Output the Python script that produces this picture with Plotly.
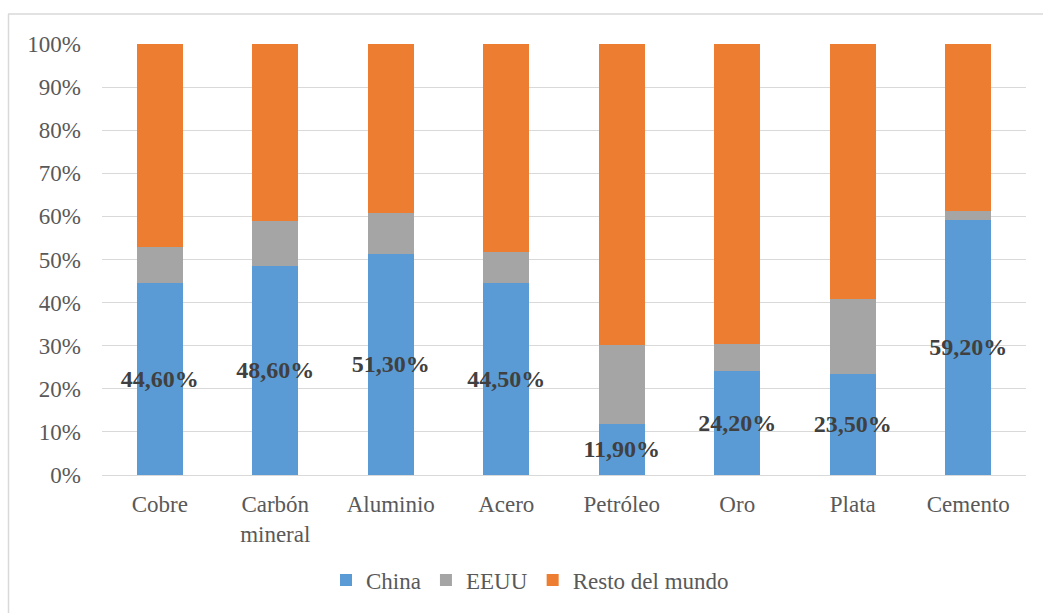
import plotly.graph_objects as go

categories = ["Cobre", "Carbón<br>mineral", "Aluminio", "Acero", "Petróleo", "Oro", "Plata", "Cemento"]
china = [44.6, 48.6, 51.3, 44.5, 11.9, 24.2, 23.5, 59.2]
eeuu = [8.3, 10.4, 9.4, 7.2, 18.3, 6.3, 17.3, 2.1]
resto = [round(100 - c - e, 1) for c, e in zip(china, eeuu)]
china_labels = [f"{v:.2f}%".replace(".", ",") for v in china]

FONT = "Liberation Serif, Times New Roman, serif"

fig = go.Figure()
fig.add_trace(go.Bar(
    name="China", x=categories, y=[v / 100 for v in china],
    marker=dict(color="#5B9BD5", line=dict(width=0)),
    text=china_labels, textposition="inside", insidetextanchor="middle",
    textangle=0, constraintext="none",
    textfont=dict(family=FONT, size=24, color="#404040", weight="bold"),
    hoverinfo="skip",
))
fig.add_trace(go.Bar(
    name="EEUU", x=categories, y=[v / 100 for v in eeuu],
    marker=dict(color="#A5A5A5", line=dict(width=0)), hoverinfo="skip",
))
fig.add_trace(go.Bar(
    name="Resto del mundo", x=categories, y=[v / 100 for v in resto],
    marker=dict(color="#ED7D31", line=dict(width=0)), hoverinfo="skip",
))

W, H = 1043, 613
# plot area in screenshot pixels
PL, PR, PT, PB = 102, 1026, 44, 475
L, T, R, B = PL, PT, W - PR, H - PB
pw, ph = W - L - R, H - T - B

def px_x(x):
    return (x - L) / pw

def px_y(y):
    return (PB - y) / ph

fig.update_layout(
    barmode="stack",
    bargap=0.6,
    width=W, height=H,
    margin=dict(l=L, r=R, t=T, b=B, pad=0, autoexpand=False),
    paper_bgcolor="white", plot_bgcolor="white",
    font=dict(family=FONT, size=23, color="#595959"),
    showlegend=True,
    legend=dict(orientation="h", x=px_x(530), xanchor="center",
                y=px_y(580), yanchor="middle",
                font=dict(family=FONT, size=23, color="#595959"),
                traceorder="normal", itemsizing="constant"),
    xaxis=dict(showgrid=False, showline=False, ticks="", ticklabelstandoff=13,
               automargin=False,
               tickfont=dict(family=FONT, size=23, color="#595959")),
    yaxis=dict(range=[0, 1], dtick=0.1, tickformat=".0%", showgrid=True,
               gridcolor="#D9D9D9", gridwidth=1, zeroline=True,
               zerolinecolor="#D9D9D9", zerolinewidth=1, showline=False,
               ticks="", ticklabelstandoff=20, automargin=False,
               tickfont=dict(family=FONT, size=23, color="#595959")),
    shapes=[
        dict(type="line", xref="paper", yref="paper",
             x0=px_x(8), x1=px_x(1043), y0=px_y(14), y1=px_y(14),
             line=dict(color="#D9D9D9", width=1.5)),
        dict(type="line", xref="paper", yref="paper",
             x0=px_x(8.5), x1=px_x(8.5), y0=px_y(14), y1=px_y(613),
             line=dict(color="#D9D9D9", width=1.5)),
    ],
)

fig.write_html(
    "out.html",
    config={"displayModeBar": False},
    post_script=(
        "document.documentElement.style.margin='0';"
        "document.documentElement.style.overflow='hidden';"
        "document.body.style.margin='0';"
        "document.body.style.overflow='hidden';"
    ),
)
